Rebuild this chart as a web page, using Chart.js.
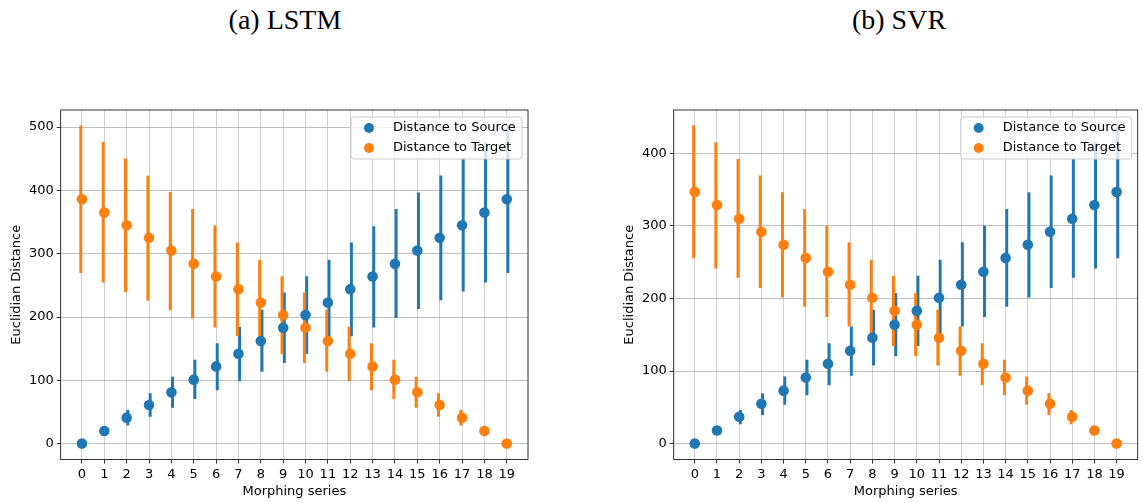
<!DOCTYPE html>
<html>
<head>
<meta charset="utf-8">
<script src="https://cdn.jsdelivr.net/npm/chart.js@4.4.1/dist/chart.umd.min.js"></script>
<style>
  body { margin: 0; background: #fff; width: 1143px; height: 503px; position: relative; overflow: hidden; }
  .title { position: absolute; top: 4px; font-family: 'Liberation Serif', 'Times New Roman', serif; font-size: 28px; color: #000; transform: translateX(-50%); white-space: nowrap; }
  canvas { position: absolute; top: 0; }
</style>
</head>
<body>
<div class="title" style="left:285px">(a) LSTM</div>
<div class="title" style="left:899px">(b) SVR</div>
<canvas id="lstm" width="571" height="503" style="left:0"></canvas>
<canvas id="svr" width="572" height="503" style="left:571px"></canvas>
<script>
// morphing steps on the x axis
const series = [0, 1, 2, 3, 4, 5, 6, 7, 8, 9, 10, 11, 12, 13, 14, 15, 16, 17, 18, 19];

// (a) LSTM
const lstmYTicks = [0, 100, 200, 300, 400, 500];
const lstmSource = [0, 20, 41, 61, 81, 101, 122, 142, 162, 183, 203, 223, 244, 264, 284, 305, 325, 345, 365, 386];
const lstmSourceLow = [0, 14, 29, 43, 57, 71, 85, 99, 114, 128, 142, 156, 170, 184, 199, 213, 227, 241, 255, 270];
const lstmSourceHigh = [0, 26, 53, 79, 105, 132, 158, 184, 211, 238, 264, 290, 317, 343, 370, 396, 423, 449, 475, 502];
const lstmTarget = [386, 365, 345, 325, 305, 284, 264, 244, 223, 203, 183, 162, 142, 122, 101, 81, 61, 41, 20, 0];
const lstmTargetLow = [270, 255, 240, 226, 211, 198, 184, 170, 156, 142, 128, 114, 99, 85, 71, 57, 43, 29, 14, 0];
const lstmTargetHigh = [502, 476, 450, 423, 397, 370, 344, 317, 290, 264, 238, 211, 184, 158, 132, 105, 79, 53, 26, 0];

// (b) SVR
const svrYTicks = [0, 100, 200, 300, 400];
const svrSource = [0, 18, 37, 55, 73, 91, 110, 128, 146, 164, 183, 201, 219, 237, 256, 274, 292, 310, 329, 347];
const svrSourceLow = [0, 13, 27, 40, 54, 67, 81, 94, 108, 121, 135, 148, 162, 175, 189, 202, 215, 229, 242, 256];
const svrSourceHigh = [0, 23, 46, 69, 92, 115, 138, 161, 184, 207, 231, 253, 277, 300, 323, 346, 369, 392, 415, 438];
const svrTarget = [347, 329, 310, 292, 274, 256, 237, 219, 201, 183, 164, 146, 128, 110, 91, 73, 55, 37, 18, 0];
const svrTargetLow = [256, 242, 229, 215, 202, 189, 175, 162, 148, 135, 121, 108, 94, 81, 67, 54, 40, 27, 13, 0];
const svrTargetHigh = [438, 415, 392, 369, 346, 323, 300, 277, 253, 231, 207, 184, 161, 138, 115, 92, 69, 46, 23, 0];

const blue = '#1f77b4';
const orange = '#ff7f0e';

Chart.defaults.font.family = "'DejaVu Sans', sans-serif";
Chart.defaults.font.size = 13;
Chart.defaults.color = '#000';

// black box round the plot + legend in the upper right corner
const frameAndLegend = {
  id: 'frameAndLegend',
  afterDraw(chart) {
    const { ctx, chartArea: a } = chart;
    ctx.save();
    ctx.strokeStyle = '#000';
    ctx.lineWidth = 0.8;
    ctx.strokeRect(a.left, a.top, a.right - a.left, a.bottom - a.top);

    const items = chart.data.datasets.filter(d => d.type === 'scatter');
    const w = 171, h = 42;
    const bx = a.right - 6 - w, by = a.top + 7;
    ctx.beginPath();
    ctx.roundRect(bx, by, w, h, 3);
    ctx.fillStyle = 'rgba(255,255,255,0.8)';
    ctx.fill();
    ctx.strokeStyle = '#cccccc';
    ctx.lineWidth = 1;
    ctx.stroke();
    ctx.font = "13px 'DejaVu Sans', sans-serif";
    ctx.textBaseline = 'middle';
    items.forEach((d, i) => {
      const y = by + 11 + i * 20;
      ctx.beginPath();
      ctx.arc(bx + 18, y, 5, 0, Math.PI * 2);
      ctx.fillStyle = d.backgroundColor;
      ctx.fill();
      ctx.fillStyle = '#000';
      ctx.fillText(d.label, bx + 42, y);
    });
    ctx.restore();
  }
};

function errBars(low, high, color, order) {
  return {
    type: 'bar',
    data: series.map((x, i) => ({ x: x, y: [low[i], high[i]] })),
    backgroundColor: color,
    barThickness: 2.3,
    order: order
  };
}

function points(label, vals, color, order) {
  return {
    type: 'scatter',
    label: label,
    data: series.map((x, i) => ({ x: x, y: vals[i] })),
    backgroundColor: color,
    borderWidth: 0,
    pointRadius: 5.3,
    order: order
  };
}

function makeChart(id, src, srcLo, srcHi, tgt, tgtLo, tgtHi, yTicks, yMin, yMax, pad) {
  return new Chart(document.getElementById(id), {
    type: 'bar',
    data: {
      datasets: [
        points('Distance to Source', src, blue, 2),
        points('Distance to Target', tgt, orange, 1),
        errBars(srcLo, srcHi, blue, 4),
        errBars(tgtLo, tgtHi, orange, 3)
      ]
    },
    options: {
      responsive: false,
      animation: false,
      layout: { padding: pad },
      plugins: { legend: { display: false }, tooltip: { enabled: false } },
      scales: {
        x: {
          type: 'linear',
          min: -0.95,
          max: 19.95,
          offset: false,
          afterBuildTicks: s => { s.ticks = series.map(v => ({ value: v })); },
          afterFit: s => { s.height = 43.5; },
          grid: { offset: false, color: '#c4c4c4', lineWidth: 0.8, tickColor: '#000', tickLength: 4 },
          border: { display: false },
          ticks: { padding: 3, maxRotation: 0, autoSkip: false },
          title: { display: true, text: 'Morphing series', padding: { top: 0, bottom: 4 } }
        },
        y: {
          min: yMin,
          max: yMax,
          afterBuildTicks: s => { s.ticks = yTicks.map(v => ({ value: v })); },
          afterFit: s => { s.width = 60.7; },
          grid: { color: '#b0b0b0', lineWidth: 0.8, tickColor: '#000', tickLength: 4 },
          border: { display: false },
          ticks: { padding: 3 },
          title: { display: true, text: 'Euclidian Distance', padding: { top: 9, bottom: 0 } }
        }
      }
    },
    plugins: [frameAndLegend]
  });
}

makeChart('lstm', lstmSource, lstmSourceLow, lstmSourceHigh, lstmTarget, lstmTargetLow, lstmTargetHigh,
  lstmYTicks, -25.1, 527, { top: 110, right: 43, left: 0, bottom: 0 });
makeChart('svr', svrSource, svrSourceLow, svrSourceHigh, svrTarget, svrTargetLow, svrTargetHigh,
  svrYTicks, -21.9, 459.9, { top: 110, right: 1.4, left: 42, bottom: 0 });
</script>
</body>
</html>
